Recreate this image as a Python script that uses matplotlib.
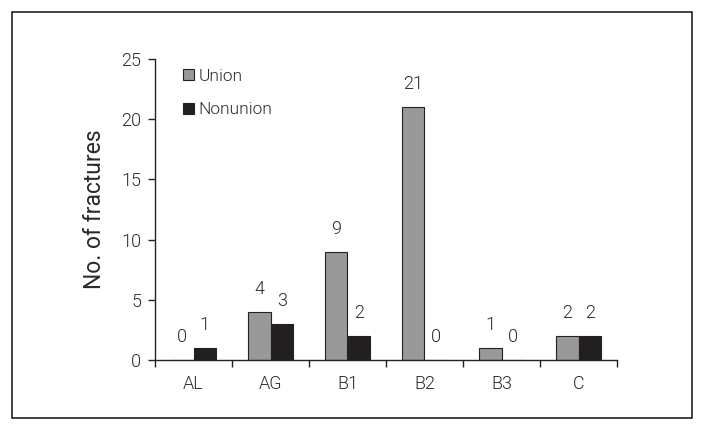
import matplotlib
matplotlib.use("Agg")
import matplotlib.pyplot as plt
import numpy as np
from matplotlib.patches import Rectangle

categories = ["AL", "AG", "B1", "B2", "B3", "C"]
union = [0, 4, 9, 21, 1, 2]
nonunion = [1, 3, 2, 0, 0, 2]
yticks = [0, 5, 10, 15, 20, 25]

plt.rcParams['font.family'] = ['Roboto', 'Liberation Sans', 'DejaVu Sans']
plt.rcParams['font.weight'] = 300
txt = '#2a2a2a'

fig = plt.figure(figsize=(7.04, 4.32), dpi=100)
fig.patches.append(Rectangle((12/704, 1-418/432), 680/704, 406/432, transform=fig.transFigure,
                             fill=False, edgecolor='#222222', linewidth=1.2, zorder=0))
ax = fig.add_axes([155/704, 1-360/432, 462/704, 301/432])

x = np.arange(len(categories))
w = 0.29
ax.bar(x - w/2, union, w, color='#999999', edgecolor='#222222', linewidth=0.8, label='Union')
ax.bar(x + w/2, nonunion, w, color='#231f20', edgecolor='#222222', linewidth=0.8, label='Nonunion')

for xi, v in zip(x - w/2, union):
    ax.annotate(str(v), (xi, v), xytext=(0, 16.5), textcoords='offset points',
                ha='center', va='center', fontsize=13, color=txt)
for xi, v in zip(x + w/2, nonunion):
    ax.annotate(str(v), (xi, v), xytext=(0, 16.5), textcoords='offset points',
                ha='center', va='center', fontsize=13, color=txt)

ax.set_xlim(-0.5, len(categories) - 0.5)
ax.set_ylim(0, 25)
ax.set_yticks(yticks)
ax.set_yticklabels([str(t) for t in yticks], fontsize=13, color=txt)
ax.set_xticks(x)
ax.set_xticklabels(categories, fontsize=13, color=txt)
ax.tick_params(axis='x', length=0, pad=11)
ax.set_xticks(np.arange(len(categories) + 1) - 0.5, minor=True)
ax.tick_params(axis='x', which='minor', length=5, direction='out', width=1, color='#222222')
ax.tick_params(axis='y', length=5, direction='out', width=1, color='#222222', pad=5)
for s in ['top', 'right']:
    ax.spines[s].set_visible(False)
for s in ['left', 'bottom']:
    ax.spines[s].set_color('#222222')
    ax.spines[s].set_linewidth(1)
ax.set_ylabel('No. of fractures', fontsize=16.5, color=txt, labelpad=11)

leg = ax.legend(loc='upper left', bbox_to_anchor=(0.046, 0.99), frameon=False, fontsize=12.5,
                borderaxespad=0, handlelength=0.6, handleheight=0.6, handletextpad=0.3,
                labelspacing=1.05)
for t in leg.get_texts():
    t.set_color(txt)

fig.savefig('out.png', dpi=100)
